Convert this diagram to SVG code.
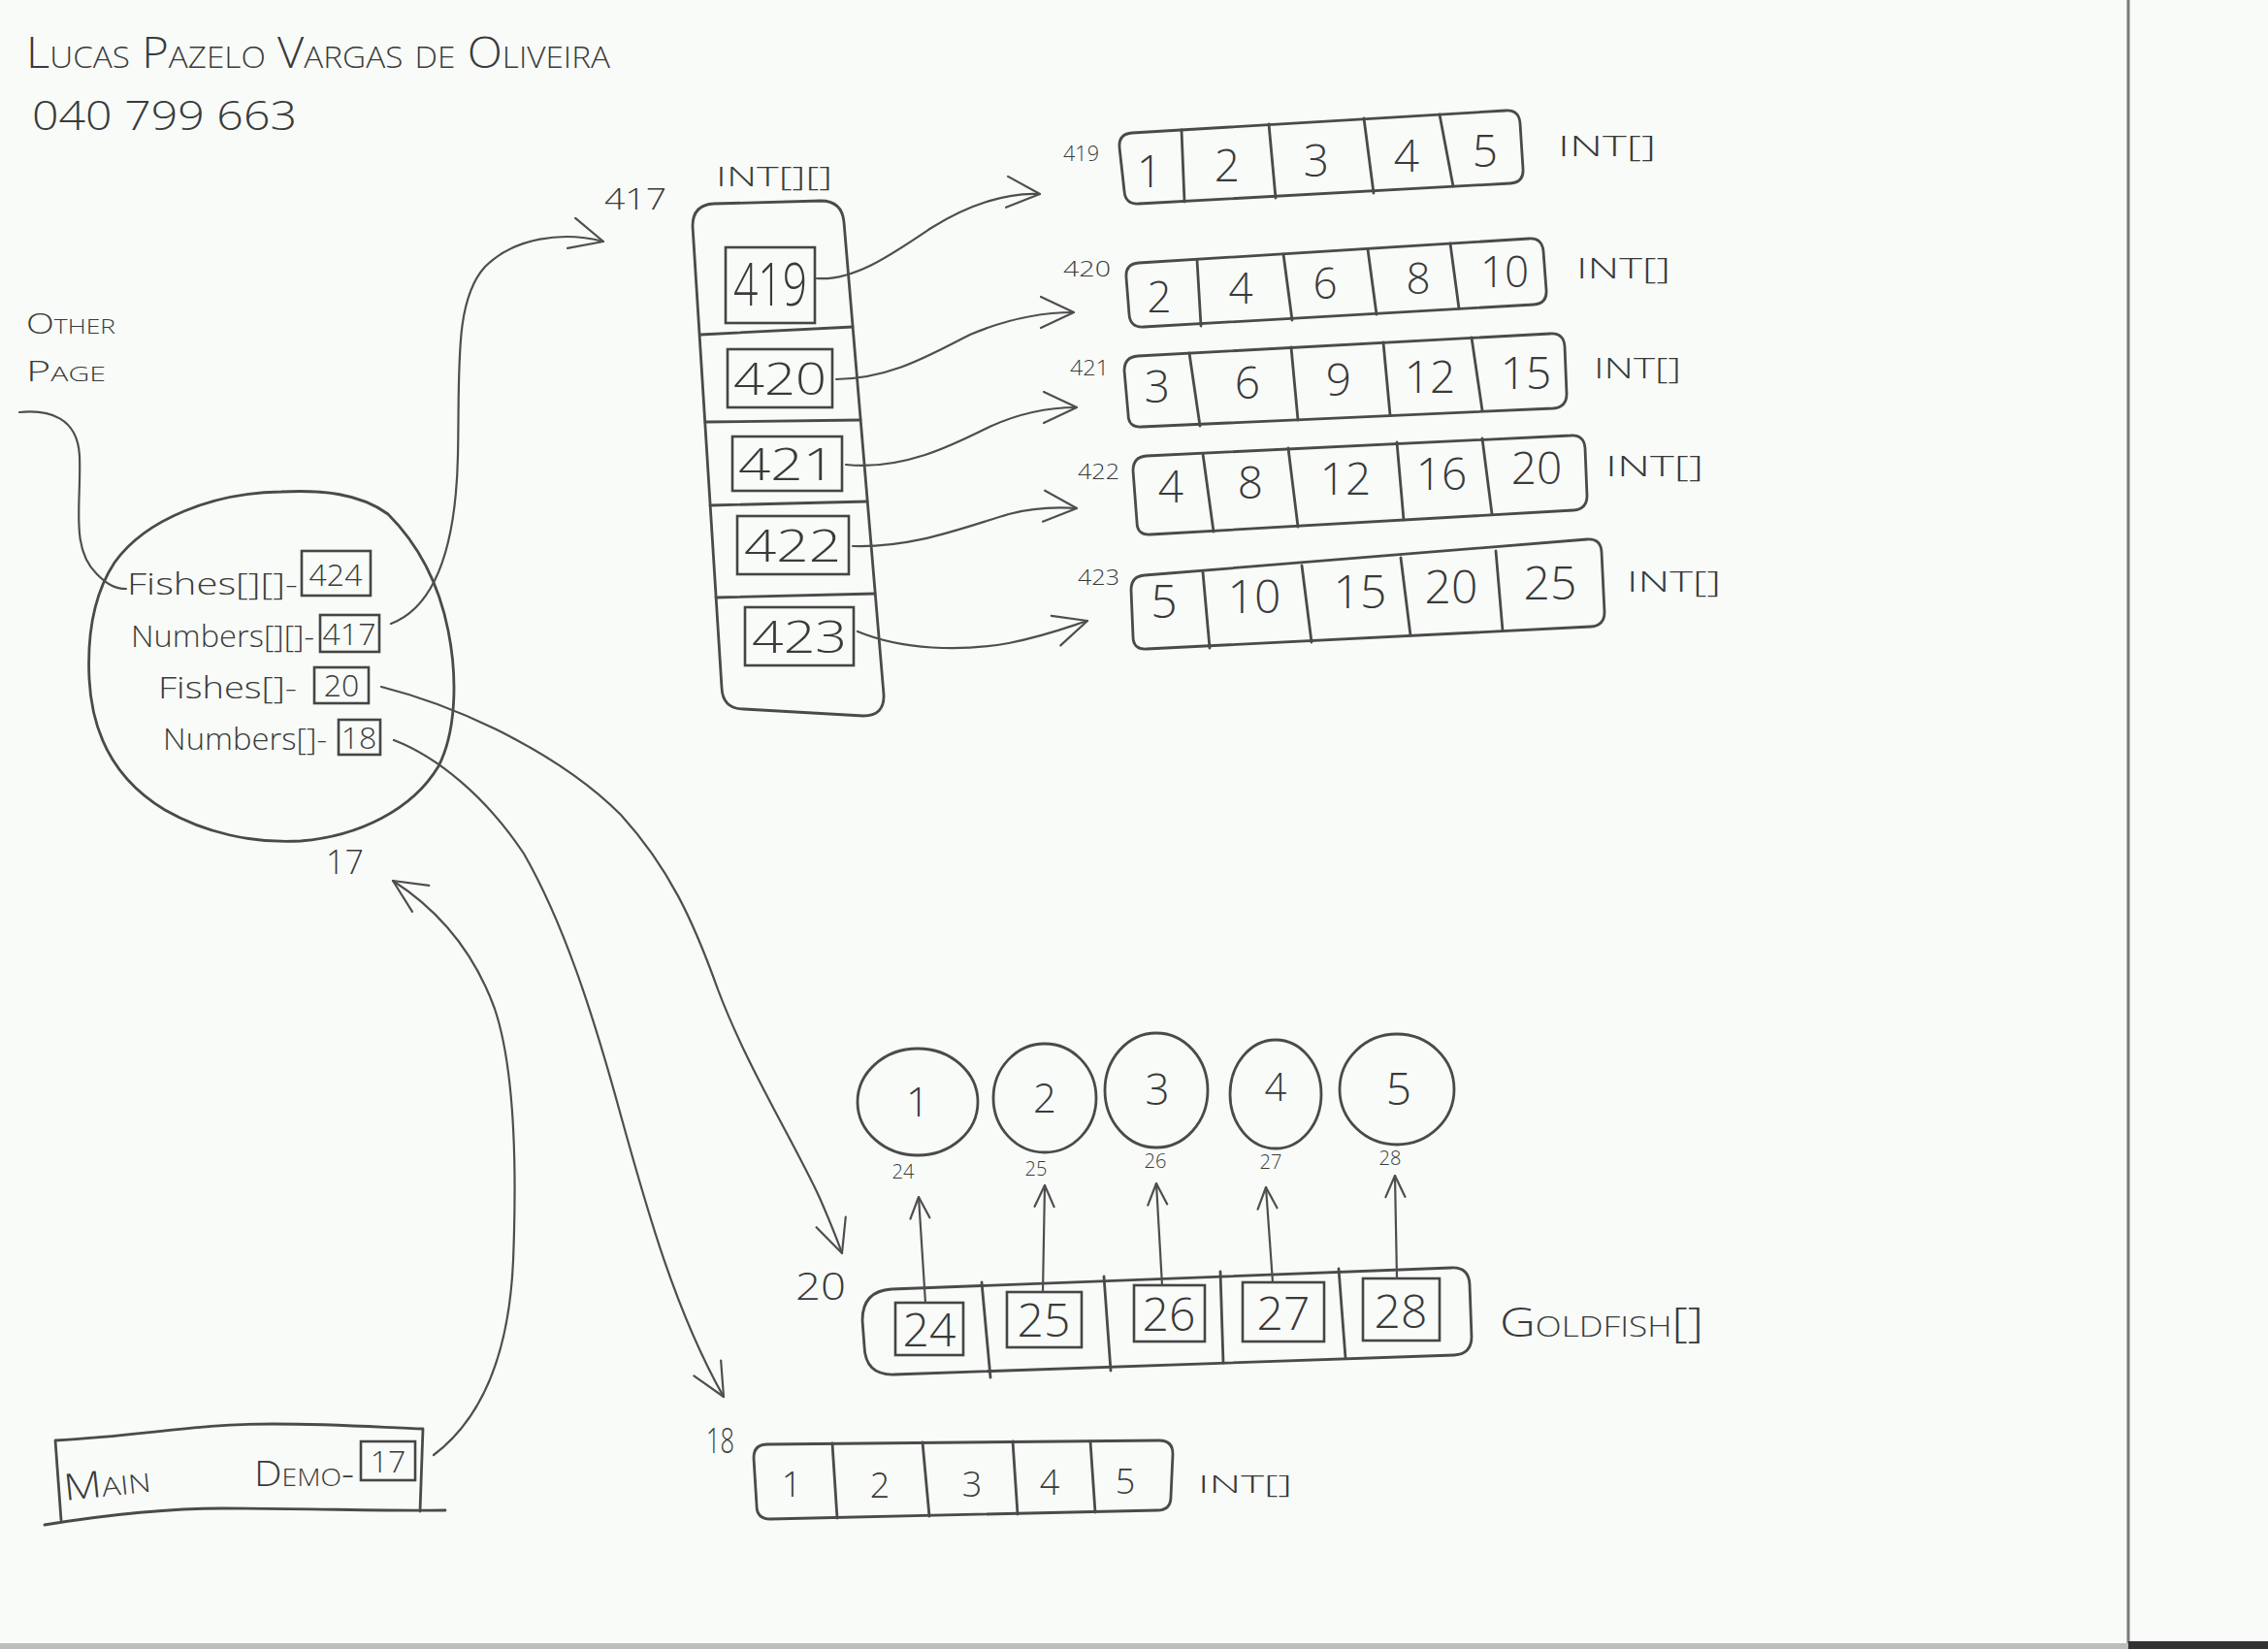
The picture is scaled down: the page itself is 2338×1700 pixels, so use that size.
<svg xmlns="http://www.w3.org/2000/svg" width="2338" height="1700" viewBox="0 0 2338 1700">
<style>
.t{font-family:"Open Sans","Liberation Sans",sans-serif;font-weight:300;fill:#3a3a3a}
.sc{font-variant:small-caps}
.m{text-anchor:middle}
.ln{fill:none;stroke:#4e4e4e;stroke-width:2.2;stroke-linecap:round;stroke-linejoin:round}
.bx{fill:none;stroke:#4a4a4a;stroke-width:2.8;stroke-linecap:round;stroke-linejoin:round}
.ib{fill:none;stroke:#454545;stroke-width:2.6}
</style>
<defs>
<marker id="arr" viewBox="0 0 40 40" refX="38" refY="20" markerWidth="40" markerHeight="40" markerUnits="userSpaceOnUse" orient="auto">
<path d="M4,4 L38,20 L4,36" fill="none" stroke="#4e4e4e" stroke-width="2.2" stroke-linecap="round" stroke-linejoin="round"/>
</marker>
<marker id="arrs" viewBox="0 0 26 26" refX="25" refY="13" markerWidth="26" markerHeight="26" markerUnits="userSpaceOnUse" orient="auto">
<path d="M3,3 L25,13 L3,23" fill="none" stroke="#4e4e4e" stroke-width="2.2" stroke-linecap="round" stroke-linejoin="round"/>
</marker>
</defs>
<rect width="2338" height="1700" fill="#f8fbf8"/>
<line x1="2194" y1="0" x2="2194" y2="1694" stroke="#7a7a7a" stroke-width="3"/>
<rect x="0" y="1694" width="2194" height="6" fill="#bdbdbd"/>
<rect x="2194" y="1692" width="144" height="8" fill="#333"/>

<g id="header">
<text class="t sc" x="27" y="70" font-size="44" textLength="602" lengthAdjust="spacingAndGlyphs">Lucas Pazelo Vargas de Oliveira</text>
<text class="t" x="33" y="134" font-size="42" textLength="273" lengthAdjust="spacingAndGlyphs">040 799 663</text>
</g>

<g id="other-page">
<text class="t sc" x="27" y="344" font-size="30" textLength="92" lengthAdjust="spacingAndGlyphs">Other</text>
<text class="t sc" x="27" y="393" font-size="30" textLength="82" lengthAdjust="spacingAndGlyphs">Page</text>
</g>

<g id="demo-object">
<path class="bx" d="M290,507 C220,508 150,535 118,580 C95,615 90,660 92,700 C95,760 120,805 170,835 C210,858 260,870 310,867 C370,862 425,835 452,790 C470,755 472,700 462,650 C452,600 430,560 400,530 C370,508 330,505 290,507 Z"/>
<text class="t" x="131" y="613" font-size="32" textLength="176" lengthAdjust="spacingAndGlyphs">Fishes[][]-</text>
<rect class="ib" x="311" y="568" width="71" height="46"/>
<text class="t m" x="346" y="604" font-size="32">424</text>
<text class="t" x="135" y="667" font-size="32" textLength="189" lengthAdjust="spacingAndGlyphs">Numbers[][]-</text>
<rect class="ib" x="330" y="634" width="61" height="38"/>
<text class="t m" x="360" y="665" font-size="32">417</text>
<text class="t" x="163" y="720" font-size="32" textLength="143" lengthAdjust="spacingAndGlyphs">Fishes[]-</text>
<rect class="ib" x="324" y="688" width="56" height="37"/>
<text class="t m" x="352" y="718" font-size="32">20</text>
<text class="t" x="168" y="773" font-size="32" textLength="169" lengthAdjust="spacingAndGlyphs">Numbers[]-</text>
<rect class="ib" x="349" y="742" width="43" height="36"/>
<text class="t m" x="370" y="772" font-size="32">18</text>
<text class="t" x="336" y="901" font-size="34">17</text>
</g>

<g id="main-frame">
<path class="bx" d="M57,1485 C150,1480 200,1468 281,1468 C350,1468 400,1472 436,1473 L433,1558 M46,1572 C120,1560 180,1555 230,1555 C320,1555 400,1558 459,1557 M57,1485 L63,1567"/>
<text class="t sc" x="67" y="1547" font-size="38" textLength="90" lengthAdjust="spacingAndGlyphs" transform="rotate(-6 67 1547)">Main</text>
<text class="t sc" x="262" y="1532" font-size="36" textLength="103" lengthAdjust="spacingAndGlyphs">Demo-</text>
<rect class="ib" x="372" y="1486" width="56" height="40"/>
<text class="t m" x="400" y="1518" font-size="32">17</text>
</g>

<g id="int2d">
<text class="t" x="623" y="216" font-size="32" textLength="64" lengthAdjust="spacingAndGlyphs">417</text>
<text class="t" x="738" y="192" font-size="28" textLength="120" lengthAdjust="spacingAndGlyphs">INT[][]</text>
<path class="bx" d="M736,210 L846,207 Q868,207 870,229 L911,716 Q912,738 890,738 L767,731 Q745,731 744,709 L714,233 Q714,211 736,210 Z"/>
<path class="bx" d="M722,345 L879,337 M727,435 L887,433 M732,521 L894,517 M738,616 L902,612"/>
<rect class="ib" x="748" y="255" width="92" height="78"/>
<text class="t m" x="794" y="315" font-size="60" textLength="76" lengthAdjust="spacingAndGlyphs">419</text>
<rect class="ib" x="750" y="360" width="108" height="60"/>
<text class="t m" x="804" y="407" font-size="46" textLength="96" lengthAdjust="spacingAndGlyphs">420</text>
<rect class="ib" x="755" y="450" width="113" height="56"/>
<text class="t m" x="811" y="495" font-size="46" textLength="100" lengthAdjust="spacingAndGlyphs">421</text>
<rect class="ib" x="760" y="532" width="115" height="60"/>
<text class="t m" x="817" y="579" font-size="46" textLength="100" lengthAdjust="spacingAndGlyphs">422</text>
<rect class="ib" x="768" y="626" width="112" height="60"/>
<text class="t m" x="824" y="673" font-size="46" textLength="98" lengthAdjust="spacingAndGlyphs">423</text>
</g>

<g id="row419">
<text class="t" x="1096" y="166" font-size="22" textLength="37" lengthAdjust="spacingAndGlyphs">419</text>
<path class="bx" d="M1167,137 L1552,114 Q1566,113 1567,127 L1570,174 Q1571,188 1557,189 L1174,210 Q1160,211 1159,197 L1154,152 Q1153,138 1167,137 Z"/>
<path class="bx" d="M1218,134 L1221,208 M1308,128 L1315,204 M1406,122 L1416,199 M1484,118 L1498,192"/>
<g class="t m" font-size="46">
<text x="1185" y="193">1</text><text x="1265" y="187">2</text><text x="1357" y="182">3</text><text x="1450" y="177">4</text><text x="1531" y="172">5</text>
</g>
<text class="t" x="1606" y="161" font-size="30" textLength="101" lengthAdjust="spacingAndGlyphs">INT[]</text>
</g>

<g id="row420">
<text class="t" x="1096" y="285" font-size="22" textLength="49" lengthAdjust="spacingAndGlyphs">420</text>
<path class="bx" d="M1174,271 L1576,246 Q1590,245 1591,259 L1594,299 Q1595,313 1581,314 L1179,337 Q1165,338 1164,324 L1161,286 Q1160,272 1174,271 Z"/>
<path class="bx" d="M1234,268 L1238,336 M1323,262 L1332,330 M1410,257 L1419,324 M1495,251 L1504,318"/>
<g class="t m" font-size="44">
<text x="1195" y="322">2</text><text x="1279" y="313">4</text><text x="1366" y="308">6</text><text x="1462" y="303">8</text><text x="1551" y="296">10</text>
</g>
<text class="t" x="1625" y="287" font-size="30" textLength="97" lengthAdjust="spacingAndGlyphs">INT[]</text>
</g>

<g id="row421">
<text class="t" x="1103" y="387" font-size="22" textLength="40" lengthAdjust="spacingAndGlyphs">421</text>
<path class="bx" d="M1173,367 L1598,344 Q1612,343 1613,357 L1615,406 Q1615,420 1601,421 L1177,440 Q1163,441 1163,427 L1159,382 Q1159,368 1173,367 Z"/>
<path class="bx" d="M1226,364 L1237,439 M1331,358 L1338,433 M1426,353 L1433,428 M1517,348 L1528,423"/>
<g class="t m" font-size="46">
<text x="1193" y="415">3</text><text x="1286" y="411">6</text><text x="1380" y="408">9</text><text x="1474" y="405">12</text><text x="1573" y="401">15</text>
</g>
<text class="t" x="1643" y="390" font-size="30" textLength="90" lengthAdjust="spacingAndGlyphs">INT[]</text>
</g>

<g id="row422">
<text class="t" x="1111" y="494" font-size="22" textLength="43" lengthAdjust="spacingAndGlyphs">422</text>
<path class="bx" d="M1182,470 L1619,449 Q1633,448 1634,462 L1636,511 Q1636,525 1622,526 L1186,551 Q1172,552 1172,538 L1168,485 Q1168,471 1182,470 Z"/>
<path class="bx" d="M1240,468 L1251,548 M1328,462 L1338,543 M1440,456 L1447,536 M1528,452 L1538,530"/>
<g class="t m" font-size="46">
<text x="1207" y="518">4</text><text x="1289" y="514">8</text><text x="1387" y="510">12</text><text x="1486" y="505">16</text><text x="1584" y="499">20</text>
</g>
<text class="t" x="1655" y="491" font-size="30" textLength="101" lengthAdjust="spacingAndGlyphs">INT[]</text>
</g>

<g id="row423">
<text class="t" x="1111" y="603" font-size="22" textLength="43" lengthAdjust="spacingAndGlyphs">423</text>
<path class="bx" d="M1180,593 L1636,556 Q1650,555 1651,569 L1654,631 Q1654,645 1640,646 L1182,669 Q1168,670 1168,656 L1166,608 Q1166,594 1180,593 Z"/>
<path class="bx" d="M1240,590 L1247,668 M1342,583 L1352,662 M1444,575 L1454,655 M1542,568 L1549,650"/>
<g class="t m" font-size="48">
<text x="1200" y="637">5</text><text x="1293" y="632">10</text><text x="1402" y="627">15</text><text x="1496" y="622">20</text><text x="1598" y="618">25</text>
</g>
<text class="t" x="1677" y="610" font-size="30" textLength="97" lengthAdjust="spacingAndGlyphs">INT[]</text>
</g>

<g id="fish1"><ellipse class="bx" cx="946" cy="1136" rx="62" ry="55"/><text class="t m" x="946" y="1151" font-size="42">1</text><text class="t m" x="931" y="1215" font-size="20">24</text></g>
<g id="fish2"><ellipse class="bx" cx="1077" cy="1132" rx="53" ry="56"/><text class="t m" x="1077" y="1147" font-size="42">2</text><text class="t m" x="1068" y="1212" font-size="20">25</text></g>
<g id="fish3"><ellipse class="bx" cx="1192" cy="1124" rx="53" ry="59"/><text class="t m" x="1193" y="1139" font-size="44">3</text><text class="t m" x="1191" y="1204" font-size="20">26</text></g>
<g id="fish4"><ellipse class="bx" cx="1315" cy="1128" rx="47" ry="56"/><text class="t m" x="1315" y="1135" font-size="40">4</text><text class="t m" x="1310" y="1205" font-size="20">27</text></g>
<g id="fish5"><ellipse class="bx" cx="1440" cy="1123" rx="59" ry="57"/><text class="t m" x="1442" y="1139" font-size="46">5</text><text class="t m" x="1433" y="1201" font-size="20">28</text></g>

<g id="goldfish-array">
<text class="t" x="820" y="1340" font-size="38" textLength="52" lengthAdjust="spacingAndGlyphs">20</text>
<path class="bx" d="M919,1329 L1496,1307 Q1514,1306 1515,1324 L1517,1378 Q1517,1396 1499,1397 L922,1417 Q892,1418 891,1388 L889,1361 Q889,1331 919,1329 Z"/>
<path class="bx" d="M1012,1322 L1021,1420 M1138,1316 L1145,1413 M1258,1311 L1261,1405 M1380,1308 L1387,1400"/>
<rect class="ib" x="923" y="1343" width="70" height="54"/>
<rect class="ib" x="1038" y="1332" width="77" height="57"/>
<rect class="ib" x="1169" y="1325" width="73" height="58"/>
<rect class="ib" x="1281" y="1322" width="84" height="61"/>
<rect class="ib" x="1405" y="1318" width="79" height="64"/>
<g class="t m" font-size="48">
<text x="958" y="1388">24</text><text x="1076" y="1378">25</text><text x="1205" y="1372">26</text><text x="1323" y="1371">27</text><text x="1444" y="1369">28</text>
</g>
<text class="t sc" x="1546" y="1378" font-size="42" textLength="210" lengthAdjust="spacingAndGlyphs">Goldfish[]</text>
</g>

<g id="int-array-18">
<text class="t" x="728" y="1498" font-size="36" textLength="29" lengthAdjust="spacingAndGlyphs">18</text>
<path class="bx" d="M791,1489 L1195,1485 Q1209,1485 1209,1499 L1207,1543 Q1207,1557 1193,1557 L794,1566 Q780,1566 780,1552 L777,1503 Q777,1489 791,1489 Z"/>
<path class="bx" d="M858,1488 L863,1565 M951,1487 L958,1563 M1044,1486 L1049,1561 M1124,1486 L1129,1559"/>
<g class="t m" font-size="36">
<text x="816" y="1543">1</text><text x="907" y="1544">2</text><text x="1002" y="1543">3</text><text x="1082" y="1541">4</text><text x="1160" y="1540">5</text>
</g>
<text class="t" x="1235" y="1539" font-size="26" textLength="97" lengthAdjust="spacingAndGlyphs">INT[]</text>
</g>

<g id="connectors">
<path class="ln" d="M20,425 C50,422 80,430 82,470 C84,520 72,565 100,592 C110,602 118,607 130,607"/>
<path class="ln" marker-end="url(#arr)" d="M403,643 C450,625 470,560 472,470 C474,380 468,310 500,275 C530,245 580,238 622,249"/>
<path class="ln" marker-end="url(#arr)" d="M842,287 C880,290 920,262 960,235 C1000,210 1040,198 1072,200"/>
<path class="ln" marker-end="url(#arr)" d="M862,391 C920,390 960,365 1000,345 C1040,328 1075,322 1107,322"/>
<path class="ln" marker-end="url(#arr)" d="M872,479 C930,485 980,460 1020,440 C1055,424 1085,420 1110,420"/>
<path class="ln" marker-end="url(#arr)" d="M879,563 C940,565 990,545 1040,530 C1070,522 1095,523 1110,524"/>
<path class="ln" marker-end="url(#arr)" d="M884,651 C930,670 990,672 1040,663 C1080,655 1105,645 1121,640"/>
<path class="ln" marker-end="url(#arr)" d="M393,708 C480,730 580,780 640,840 C690,895 715,950 740,1020 C770,1100 820,1180 845,1235 C855,1258 862,1275 868,1292"/>
<path class="ln" marker-end="url(#arr)" d="M406,763 C450,780 500,820 540,880 C580,950 610,1040 640,1150 C665,1240 695,1350 746,1440"/>
<path class="ln" marker-end="url(#arr)" d="M447,1500 C500,1460 525,1390 529,1300 C533,1200 530,1100 510,1040 C490,985 455,940 405,908"/>
<path class="ln" marker-end="url(#arrs)" d="M954,1343 L947,1234"/>
<path class="ln" marker-end="url(#arrs)" d="M1075,1332 L1077,1222"/>
<path class="ln" marker-end="url(#arrs)" d="M1198,1325 L1192,1220"/>
<path class="ln" marker-end="url(#arrs)" d="M1312,1322 L1305,1224"/>
<path class="ln" marker-end="url(#arrs)" d="M1440,1318 L1438,1212"/>
</g>
</svg>
